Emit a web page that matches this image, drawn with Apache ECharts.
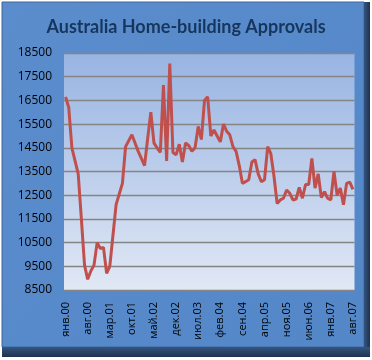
<!DOCTYPE html>
<html>
<head>
<meta charset="utf-8">
<script src="https://cdn.jsdelivr.net/npm/echarts@6/dist/echarts.min.js"></script>
<style>
html,body{margin:0;padding:0;background:#fff;}
#c{width:372px;height:360px;}
</style>
</head>
<body>
<div id="c"></div>
<script>
const titleText = 'Australia Home-building Approvals';
const monthNames = ['янв','фев','мар','апр','май','июн','июл','авг','сен','окт','ноя','дек'];
const years = ['00','01','02','03','04','05','06','07'];
const approvals = [
  16650,16200,14500,13950,13400,11500,9550,8950,9300,9550,10500,10250,
  10300,9200,9500,10800,12100,12550,13000,14550,14800,15050,14700,14350,
  14050,13750,14900,16000,14700,14500,14300,17150,13950,18050,14300,14200,
  14650,13900,14700,14600,14350,14500,15400,14850,16500,16650,15000,15250,
  15000,14750,15500,15200,15050,14550,14350,13750,13000,13070,13150,13900,
  14000,13400,13070,13150,14550,14250,13300,12150,12300,12370,12720,12580,
  12300,12340,12830,12370,12950,12950,14050,12800,13400,12400,12650,12370,
  12300,13500,12500,12800,12100,13000,13050,12750
];
const yMin = 8500, yMax = 18500, yStep = 1000;

const categories = [];
for (let i = 0; i < approvals.length; i++) {
  categories.push(monthNames[i % 12] + '.' + years[Math.floor(i / 12)]);
}

const chart = echarts.init(document.getElementById('c'), null, {renderer: 'canvas'});
chart.setOption({
  backgroundColor: '#ffffff',
  animation: false,
  graphic: [
    {type: 'rect', z: -10, shape: {x: 2, y: 2, width: 368, height: 355}, style: {fill: '#263F63'}},
    {type: 'rect', z: -9, shape: {x: 2, y: 2, width: 362, height: 345},
      style: {fill: new echarts.graphic.LinearGradient(0, 0, 1, 1, [
        {offset: 0, color: '#5B8DCD'}, {offset: 1, color: '#5487C8'}]), stroke: '#3E679C', lineWidth: 1}},
    {type: 'rect', z: -8, shape: {x: 364, y: 2, width: 6, height: 355},
      style: {fill: new echarts.graphic.LinearGradient(0, 0, 1, 0, [
        {offset: 0, color: '#35557F'}, {offset: 1, color: '#1E324F'}])}},
    {type: 'rect', z: -8, shape: {x: 2, y: 347, width: 368, height: 10},
      style: {fill: new echarts.graphic.LinearGradient(0, 0, 0, 1, [
        {offset: 0, color: '#35557F'}, {offset: 1, color: '#1E324F'}])}}
  ],
  title: {
    text: titleText,
    left: 'center',
    top: 13,
    textStyle: {fontFamily: 'Lato', fontWeight: 'bold', fontSize: 18, color: '#17365D'}
  },
  grid: {
    left: 64, right: 17.5, top: 53, bottom: 70,
    show: true,
    borderWidth: 0,
    backgroundColor: new echarts.graphic.LinearGradient(0, 0, 0, 1, [
      {offset: 0, color: '#98B4E2'}, {offset: 1, color: '#E1E8F5'}])
  },
  xAxis: {
    type: 'category',
    data: categories,
    boundaryGap: true,
    axisLine: {show: false},
    axisTick: {show: false},
    axisLabel: {
      interval: 6, rotate: 90, margin: 12,
      fontFamily: 'Open Sans', fontSize: 11, color: '#000'
    },
    splitLine: {show: false}
  },
  yAxis: {
    type: 'value',
    min: yMin, max: yMax, interval: yStep / 2,
    axisLine: {show: false},
    axisTick: {show: false},
    axisLabel: {
      margin: 12, fontFamily: 'Open Sans', fontSize: 12, color: '#000',
      formatter: function (v) { return ((v - yMin) % yStep === 0) ? String(v) : ''; }
    },
    splitLine: {show: true, lineStyle: {color: ['#858585', 'rgba(0,0,0,0)'], width: 1.3}}
  },
  series: [{
    type: 'line',
    data: approvals,
    showSymbol: false,
    symbol: 'none',
    lineStyle: {color: '#C0504D', width: 3},
    itemStyle: {color: '#C0504D'}
  }]
});
</script>
</body>
</html>
